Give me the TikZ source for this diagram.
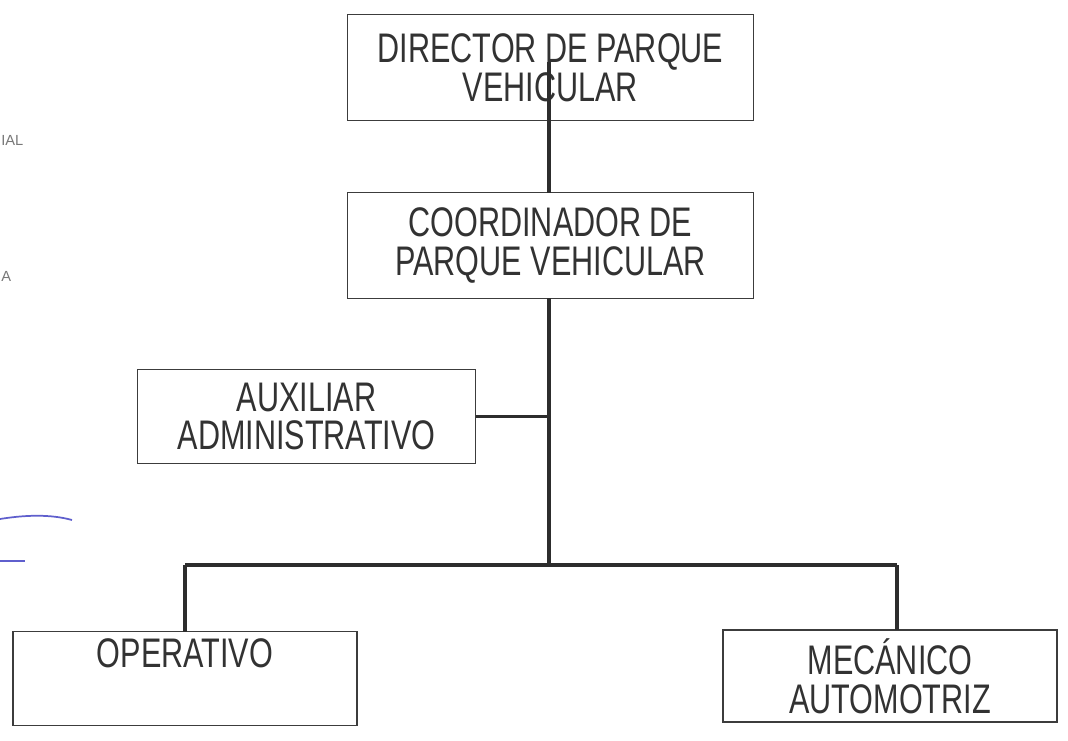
\documentclass[tikz,border=0pt]{standalone}
\usepackage{fontspec}
\setmainfont[FakeStretch=0.74]{Liberation Sans}
\newfontfamily\margenfont{Liberation Sans}
\begin{document}
\begin{tikzpicture}[x=0.75pt,y=0.75pt,yscale=-1,xscale=1,
  puesto/.style={draw={rgb, 255:red, 60; green, 60; blue, 60 }, line width=0.9pt, inner sep=0pt, outer sep=0pt, align=center,
    text={rgb, 255:red, 50; green, 50; blue, 50 }, font=\fontsize{31}{29}\selectfont},
  liga/.style={draw={rgb, 255:red, 45; green, 45; blue, 45 }, line width=2.8pt},
  margen/.style={text={rgb, 255:red, 120; green, 120; blue, 120 }, inner sep=0pt, font=\margenfont\fontsize{11}{12}\selectfont},
  tinta/.style={draw={rgb, 255:red, 95; green, 95; blue, 205 }, line width=1.3pt}]
\useasboundingbox (0,0) rectangle (1068,741);

% Boxes
\node [puesto, minimum width=305pt, minimum height=79pt] (dir) at (550.5,67.5) {DIRECTOR DE PARQUE\\VEHICULAR};
\node [puesto, minimum width=305pt, minimum height=79pt] (coord) at (550.5,245.5) {COORDINADOR DE\\PARQUE VEHICULAR};
\node [puesto, minimum width=254pt, minimum height=70pt] (aux) at (306.5,416.5) {AUXILIAR\\ADMINISTRATIVO};
\node [puesto, minimum width=258pt, minimum height=70pt] (ope) at (185,678.5) {OPERATIVO\\\strut};
\node [puesto, minimum width=250.5pt, minimum height=69pt] (mec) at (890,676) {MEC\'ANICO\\AUTOMOTRIZ};

% Joints
\coordinate (cj) at (549,565);
\coordinate (mj) at (897,565);

%Straight Lines
\draw [liga] (549,62) -- (coord.north -| 549,0);
\draw [liga] (coord.south -| cj) -- (cj);
\draw [liga] (aux.east) -- (aux.east -| cj);
\draw [liga] (ope.north |- cj) -- (mj);
\draw [liga] (ope.north |- cj) -- (ope.north);
\draw [liga] (mj) -- (mj |- mec.north);

% Margin remains
\node [margen, anchor=west] (m1) at (1,140) {IAL};
\node [margen, anchor=west] (m2) at (1,276) {A};
\draw [tinta] (0,519) .. controls (25,515) and (50,514) .. (72,520);
\draw [tinta] (0,561) -- (25,561);

\end{tikzpicture}
\end{document}
